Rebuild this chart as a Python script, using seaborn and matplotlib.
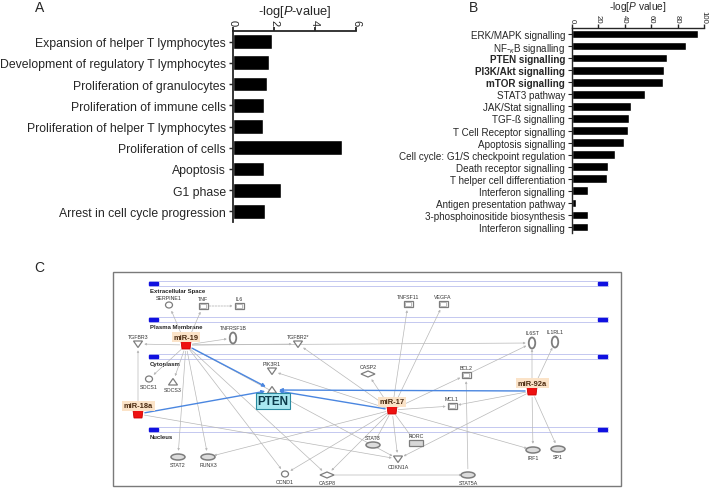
import matplotlib
matplotlib.use("Agg")
import matplotlib.pyplot as plt
import seaborn as sns
import pandas as pd
from matplotlib.patches import Rectangle, Ellipse, Polygon

# ---------------- data ----------------
a_categories = ["Expansion of helper T lymphocytes",
                "Development of regulatory T lymphocytes",
                "Proliferation of granulocytes",
                "Proliferation of immune cells",
                "Proliferation of helper T lymphocytes",
                "Proliferation of cells",
                "Apoptosis",
                "G1 phase",
                "Arrest in cell cycle progression"]
a_values = [1.9, 1.76, 1.64, 1.5, 1.46, 5.3, 1.5, 2.36, 1.56]
a_ticks = [0, 2, 4, 6]

b_categories = ["ERK/MAPK signalling",
                r"NF-$_{\kappa}$B signalling",
                "PTEN signalling",
                "PI3K/Akt signalling",
                "mTOR signalling",
                "STAT3 pathway",
                "JAK/Stat signalling",
                "TGF-ß signalling",
                "T Cell Receptor signalling",
                "Apoptosis signalling",
                "Cell cycle: G1/S checkpoint regulation",
                "Death receptor signalling",
                "T helper cell differentiation",
                "Interferon signalling",
                "Antigen presentation pathway",
                "3-phosphoinositide biosynthesis",
                "Interferon signalling"]
b_values = [95.7, 86.4, 72.0, 69.7, 69.2, 55.5, 44.7, 43.4, 42.7, 39.4,
            32.8, 27.5, 26.2, 11.9, 2.8, 12.4, 11.9]
b_bold = ["PTEN signalling", "PI3K/Akt signalling", "mTOR signalling"]
b_ticks = [0, 20, 40, 60, 80, 100]

# network (panel C): compartments, nodes, edges
compartments = ["Extracellular Space", "Plasma Membrane", "Cytoplasm", "Nucleus"]
node_names = ["SERPINE1", "TNF", "IL6", "TNFSF11", "VEGFA", "TNFRSF1B", "TGFBR3",
              "TGFBR2*", "IL6ST", "IL1RL1", "PIK3R1", "CASP2", "BCL2", "SOCS1",
              "SOCS3", "PTEN", "MCL1", "STAT3", "RORC", "CDKN1A", "STAT2", "RUNX3",
              "CCND1", "CASP8", "STAT5A", "IRF1", "SP1",
              "miR-19", "miR-18a", "miR-17", "miR-92a"]
node_shapes = ["circle", "square", "square", "square", "square", "vellipse", "tridown",
               "tridown", "vellipse", "vellipse", "tridown", "diamond", "square", "circle",
               "triup", "triup", "square", "hellipse", "rect", "tridown", "hellipse", "hellipse",
               "circle", "diamond", "hellipse", "hellipse", "hellipse",
               "mir", "mir", "mir", "mir"]
gray_edges = [("miR-19", "SERPINE1"), ("miR-19", "TNF"), ("miR-19", "TGFBR3"),
              ("miR-19", "TNFRSF1B"), ("miR-19", "TGFBR2*"), ("miR-19", "IL6ST"),
              ("miR-19", "SOCS1"), ("miR-19", "SOCS3"), ("miR-19", "STAT2"),
              ("miR-19", "RUNX3"), ("miR-19", "CCND1"), ("miR-19", "CASP8"),
              ("miR-19", "CDKN1A"),
              ("miR-18a", "TGFBR3"), ("miR-18a", "CDKN1A"),
              ("miR-17", "TNFSF11"), ("miR-17", "VEGFA"), ("miR-17", "TGFBR2*"),
              ("miR-17", "CASP2"), ("miR-17", "PIK3R1"), ("miR-17", "BCL2"),
              ("miR-17", "MCL1"), ("miR-17", "STAT3"), ("miR-17", "RORC"),
              ("miR-17", "CDKN1A"), ("miR-17", "CASP8"), ("miR-17", "CCND1"),
              ("miR-17", "RUNX3"), ("miR-17", "IRF1"),
              ("miR-92a", "IL6ST"), ("miR-92a", "IL1RL1"), ("miR-92a", "MCL1"),
              ("miR-92a", "IRF1"), ("miR-92a", "SP1"), ("miR-92a", "CDKN1A"),
              ("STAT5A", "BCL2"), ("CASP8", "STAT5A"), ("BCL2", "IL6ST")]
blue_edges = [("miR-19", "PTEN"), ("miR-18a", "PTEN"), ("miR-17", "PTEN"), ("miR-92a", "PTEN")]
dashed_edges = [("TNF", "IL6")]

# ---------------- layout (pixel geometry) ----------------
W, H = 709, 489
node_xy = {"SERPINE1": (169, 306), "TNF": (203, 307), "IL6": (239, 307),
           "TNFSF11": (408, 305), "VEGFA": (443, 305), "TNFRSF1B": (233, 339),
           "TGFBR3": (138, 345), "TGFBR2*": (298, 345), "IL6ST": (532, 344),
           "IL1RL1": (555, 343), "PIK3R1": (272, 372), "CASP2": (368, 375),
           "BCL2": (466, 376), "SOCS1": (149, 380), "SOCS3": (173, 383),
           "PTEN": (272, 391), "MCL1": (452, 407), "STAT3": (373, 446),
           "RORC": (416, 444), "CDKN1A": (398, 460), "STAT2": (178, 458),
           "RUNX3": (208, 458), "CCND1": (285, 475), "CASP8": (327, 476),
           "STAT5A": (468, 476), "IRF1": (533, 451), "SP1": (558, 450),
           "miR-19": (186, 346), "miR-18a": (138, 415), "miR-17": (392, 411),
           "miR-92a": (532, 392)}
label_below = {"SOCS1", "SOCS3", "STAT2", "RUNX3", "CCND1", "CASP8", "STAT5A",
               "IRF1", "SP1", "CDKN1A"}

sns.set_style("ticks")
plt.rcParams["font.family"] = ["Liberation Sans", "DejaVu Sans"]
plt.rcParams["mathtext.fontset"] = "custom"
plt.rcParams["mathtext.rm"] = "Liberation Sans"
plt.rcParams["mathtext.it"] = "Liberation Sans:italic"
plt.rcParams["mathtext.bf"] = "Liberation Sans:bold"

fig = plt.figure(figsize=(W / 100, H / 100), dpi=100)


def rect(x0, y0, x1, y1):
    return [x0 / W, 1 - y1 / H, (x1 - x0) / W, (y1 - y0) / H]


def style_bar_axes(ax, ticks, xmax, tick_fs, lw):
    ax.set_xlim(0, xmax)
    ax.xaxis.tick_top()
    ax.set_xticks(ticks)
    ax.set_xticklabels([str(t) for t in ticks], rotation=-90, fontsize=tick_fs)
    for s in ["right", "bottom"]:
        ax.spines[s].set_visible(False)
    for s in ["top", "left"]:
        ax.spines[s].set_linewidth(lw)
    ax.tick_params(axis="x", length=3, width=lw, pad=1)
    ax.tick_params(axis="y", length=3, width=lw * 0.8, pad=2)
    ax.set_ylabel("")
    ax.set_xlabel("")


# ---------------- panel C (full-figure overlay) ----------------
axc = fig.add_axes([0, 0, 1, 1])
axc.set_xlim(0, W)
axc.set_ylim(H, 0)
axc.axis("off")

axc.add_patch(Rectangle((113, 273), 508, 214, fill=False, ec="#7a7a7a", lw=1.0))
comp_y = [282, 318, 355, 428]
for name, y in zip(compartments, comp_y):
    axc.plot([149, 608], [y, y], color="#c4c8f0", lw=0.7, zorder=1)
    axc.plot([149, 608], [y + 5, y + 5], color="#c4c8f0", lw=0.7, zorder=1)
    axc.add_patch(Rectangle((149, y + 0.8), 9, 3.6, color="#1010e0", zorder=2))
    axc.add_patch(Rectangle((598, y + 0.8), 9, 3.6, color="#1010e0", zorder=2))
    axc.text(150, y + 9.5, name, fontsize=4.3, fontweight="bold", color="#222222",
             va="center", ha="left")


def arrow(p, q, color, lw, ls="-", head=3.0, shrink=4.5):
    axc.annotate("", xy=q, xytext=p,
                 arrowprops=dict(arrowstyle="-|>", color=color, lw=lw, ls=ls,
                                 mutation_scale=head, shrinkA=shrink, shrinkB=shrink),
                 zorder=3)


for a, b in gray_edges:
    arrow(node_xy[a], node_xy[b], "#b8b8b8", 0.5)
for a, b in dashed_edges:
    arrow(node_xy[a], node_xy[b], "#b8b8b8", 0.6, ls=(0, (2, 1.5)))
for a, b in blue_edges:
    arrow(node_xy[a], node_xy[b], "#4a86e0", 1.0, head=5, shrink=5)

ec = "#7d7d7d"
for name, shape in zip(node_names, node_shapes):
    x, y = node_xy[name]
    kw = dict(fc="white", ec=ec, lw=0.9, zorder=5)
    if shape == "circle":
        axc.add_patch(Ellipse((x, y), 7, 6, **kw))
    elif shape == "square":
        axc.add_patch(Rectangle((x - 4.5, y - 3), 9, 6, **kw))
        axc.add_patch(Rectangle((x - 2.8, y - 1.6), 5.6, 3.2, fc="white", ec="#a0a0a0",
                                lw=0.5, zorder=6))
    elif shape == "rect":
        axc.add_patch(Rectangle((x - 7, y - 3), 14, 6, fc="#d8d8d8", ec=ec, lw=0.9, zorder=5))
    elif shape == "vellipse":
        axc.add_patch(Ellipse((x, y), 6.5, 11, fc="white", ec=ec, lw=1.3, zorder=5))
    elif shape == "hellipse":
        axc.add_patch(Ellipse((x, y), 14, 6, fc="#dcdcdc", ec=ec, lw=1.1, zorder=5))
    elif shape == "tridown":
        axc.add_patch(Polygon([(x - 4.5, y - 3), (x + 4.5, y - 3), (x, y + 3.5)], **kw))
    elif shape == "triup":
        axc.add_patch(Polygon([(x - 4.5, y + 3), (x + 4.5, y + 3), (x, y - 3.5)], **kw))
    elif shape == "diamond":
        axc.add_patch(Polygon([(x - 7, y), (x, y - 3), (x + 7, y), (x, y + 3)], **kw))
    elif shape == "mir":
        axc.add_patch(Polygon([(x - 5, y - 4), (x + 5, y - 4), (x + 4, y + 4),
                               (x - 4, y + 4)], fc="#ee1111", ec="#cc0000", lw=0.6,
                              zorder=6))

    if shape == "mir":
        axc.text(x, y - 8, name, fontsize=5.4, fontweight="bold", color="#4a2a10",
                 ha="center", va="center", zorder=7,
                 bbox=dict(boxstyle="square,pad=0.25", fc="#fbe3c8", ec="none"))
    elif name == "PTEN":
        axc.text(x + 1, y + 11, name, fontsize=8.5, fontweight="bold", color="#0a3a4a",
                 ha="center", va="center", zorder=7,
                 bbox=dict(boxstyle="square,pad=0.15", fc="#a8e8f0", ec="#2a8aa0", lw=0.8))
    elif name in label_below:
        axc.text(x, y + 7.5, name, fontsize=3.8, color="#333333",
                 ha="center", va="center", zorder=7)
    else:
        dy = 10.5 if shape == "vellipse" else 7.5
        axc.text(x, y - dy, name, fontsize=3.8, color="#333333",
                 ha="center", va="center", zorder=7)

# ---------------- panel A ----------------
axa = fig.add_axes(rect(233, 32, 356, 223))
dfa = pd.DataFrame({"term": a_categories, "value": a_values})
sns.barplot(data=dfa, x="value", y="term", orient="h", color="black",
            saturation=1, width=0.7, ax=axa)
style_bar_axes(axa, a_ticks, 6, 8, 1.3)
axa.set_ylim(len(a_categories) - 0.5, -0.5)
axa.tick_params(axis="y", labelsize=8.8)
fig.text(295 / W, 1 - 12 / H, r"-log[$\it{P}$-value]", fontsize=9.3,
         ha="center", va="center")

# ---------------- panel B ----------------
axb = fig.add_axes(rect(572, 29, 704, 234))
dfb = pd.DataFrame({"row": [f"r{i:02d}" for i in range(len(b_categories))],
                    "value": b_values})
sns.barplot(data=dfb, x="value", y="row", orient="h", color="black",
            saturation=1, width=0.72, ax=axb)
style_bar_axes(axb, b_ticks, 100, 5.6, 1.0)
axb.set_ylim(len(b_categories) - 0.5, -0.5)
axb.set_yticks(range(len(b_categories)))
axb.set_yticklabels(b_categories, fontsize=7.1)
for lbl, name in zip(axb.get_yticklabels(), b_categories):
    if name in b_bold:
        lbl.set_fontweight("bold")
fig.text(638 / W, 1 - 7 / H, r"-log[$\it{P}$ value]", fontsize=7.3,
         ha="center", va="center")

# panel letters
fig.text(40 / W, 1 - 8 / H, "A", fontsize=10, ha="center", va="center")
fig.text(474 / W, 1 - 8 / H, "B", fontsize=10, ha="center", va="center")
fig.text(39 / W, 1 - 268 / H, "C", fontsize=10, ha="center", va="center")

fig.savefig("out.png", dpi=100)
